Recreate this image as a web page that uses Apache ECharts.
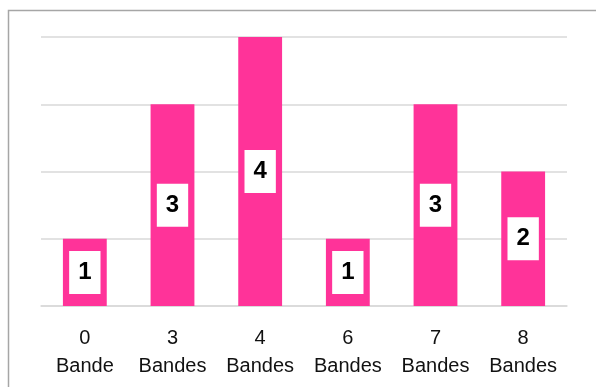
<!DOCTYPE html>
<html>
<head>
<meta charset="utf-8">
<script src="https://cdn.jsdelivr.net/npm/echarts@6/dist/echarts.min.js"></script>
<style>
html,body{margin:0;padding:0;background:#fff;}
#chart{width:596px;height:387px;}
</style>
</head>
<body>
<div id="chart"></div>
<script>
const categories = ["0\nBande", "3\nBandes", "4\nBandes", "6\nBandes", "7\nBandes", "8\nBandes"];
const values = [1, 3, 4, 1, 3, 2];

const chart = echarts.init(document.getElementById('chart'), null, {renderer: 'canvas'});
chart.setOption({
  animation: false,
  backgroundColor: '#ffffff',
  graphic: [{
    type: 'rect',
    shape: {x: 8.5, y: 10.5, width: 700, height: 500},
    style: {fill: 'none', stroke: '#A6A6A6', lineWidth: 1.5},
    silent: true
  }],
  grid: {left: 41, right: 29, top: 37, bottom: 81},
  xAxis: {
    type: 'category',
    data: categories,
    axisTick: {show: false},
    axisLine: {show: true, lineStyle: {color: '#D9D9D9', width: 1.5}},
    axisLabel: {
      color: '#111111',
      fontFamily: 'Liberation Sans, Arial, sans-serif',
      fontSize: 20,
      lineHeight: 28,
      margin: 18,
      interval: 0
    }
  },
  yAxis: {
    type: 'value',
    min: 0,
    max: 4,
    interval: 1,
    axisLabel: {show: false},
    axisLine: {show: false},
    axisTick: {show: false},
    splitLine: {lineStyle: {color: '#D9D9D9', width: 1.5}}
  },
  series: [{
    type: 'bar',
    data: values,
    barCategoryGap: '50%',
    itemStyle: {color: '#FF3399'},
    label: {
      show: true,
      position: 'inside',
      color: '#000',
      fontFamily: 'Liberation Sans, Arial, sans-serif',
      fontWeight: 'bold',
      fontSize: 24,
      backgroundColor: '#ffffff',
      padding: [10, 9, 9, 9],
      lineHeight: 24
    }
  }]
});
</script>
</body>
</html>
